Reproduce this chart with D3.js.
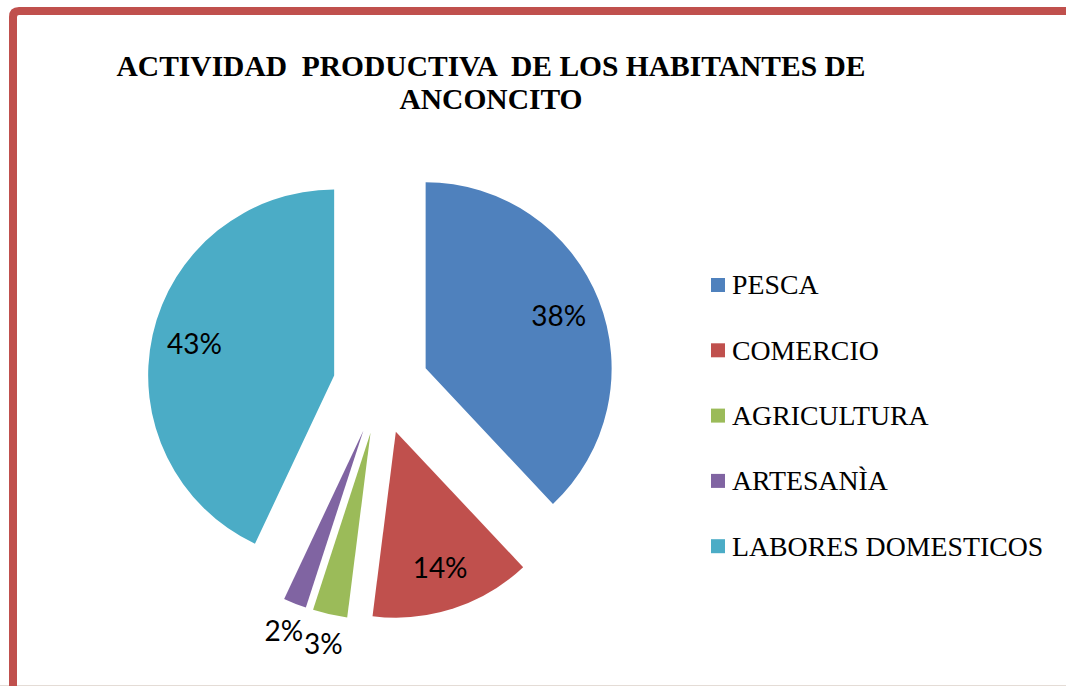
<!DOCTYPE html>
<html>
<head>
<meta charset="utf-8">
<script src="https://cdn.jsdelivr.net/npm/d3@7"></script>
<style>
  body { margin: 0; background: #fff; }
</style>
</head>
<body>
<div id="chart"></div>
<script>
// data
var categories = ["PESCA", "COMERCIO", "AGRICULTURA", "ARTESANÌA", "LABORES DOMESTICOS"];
var values = [38, 14, 3, 2, 43];
var colors = ["#4F81BD", "#C0504D", "#9BBB59", "#8064A2", "#4BACC6"];
var titleLines = ["ACTIVIDAD  PRODUCTIVA  DE LOS HABITANTES DE", "ANCONCITO"];

var svgWidth = 1066;
var svgHeight = 686;

var svg = d3.select("#chart")
  .append("svg")
  .attr("width", svgWidth)
  .attr("height", svgHeight);

// frame: thick red top/left border, thin grey bottom line
svg.append("line")
  .attr("x1", 0).attr("x2", svgWidth)
  .attr("y1", 685.5).attr("y2", 685.5)
  .attr("stroke", "#e4dcd6").attr("stroke-width", 1);

svg.append("path")
  .attr("d", "M13,686 V17 Q13,11 19,11 H1066")
  .attr("fill", "none")
  .attr("stroke", "#C0504D")
  .attr("stroke-width", 8);

// title
var title = svg.append("text")
  .attr("x", 491)
  .attr("y", 76)
  .attr("text-anchor", "middle")
  .attr("font-family", "'Liberation Serif', 'Times New Roman', serif")
  .attr("font-weight", "bold")
  .attr("font-size", "29.5px")
  .attr("fill", "#000")
  .style("white-space", "pre");

title.selectAll("tspan")
  .data(titleLines)
  .enter()
  .append("tspan")
  .attr("x", 491)
  .attr("dy", (d, i) => i === 0 ? 0 : 33)
  .text(d => d);

// pie
var radius = 186;
var explode = 48;
var cx = 381, cy = 386;

var pie = d3.pie().sort(null).value(d => d);
var arcs = pie(values);

var arc = d3.arc().innerRadius(0).outerRadius(radius);
var labelArc = d3.arc().innerRadius(radius * 0.77).outerRadius(radius * 0.77);
var outerLabelArc = d3.arc().innerRadius(radius * 1.16).outerRadius(radius * 1.16);

var pieGroup = svg.append("g")
  .attr("transform", `translate(${cx}, ${cy})`);

function offset(d) {
  var a = (d.startAngle + d.endAngle) / 2;
  return [Math.sin(a) * explode, -Math.cos(a) * explode];
}

var slices = pieGroup.selectAll("g.slice")
  .data(arcs)
  .enter()
  .append("g")
  .attr("class", "slice")
  .attr("transform", d => `translate(${offset(d)[0]}, ${offset(d)[1]})`);

slices.append("path")
  .attr("d", arc)
  .attr("fill", (d, i) => colors[i]);

slices.append("text")
  .attr("transform", d => {
    var c = d.data < 5 ? outerLabelArc.centroid(d) : labelArc.centroid(d);
    return `translate(${c[0]}, ${c[1]})`;
  })
  .attr("text-anchor", "middle")
  .attr("dy", "0.36em")
  .attr("font-family", "Lato, 'Open Sans', sans-serif")
  .attr("font-size", "28px")
  .attr("fill", "#000")
  .text(d => d.data + "%");

// legend
var legend = svg.append("g")
  .attr("transform", "translate(711, 285)");

var rows = legend.selectAll("g")
  .data(categories)
  .enter()
  .append("g")
  .attr("transform", (d, i) => `translate(0, ${i * 65.3})`);

rows.append("rect")
  .attr("x", 0)
  .attr("y", -7)
  .attr("width", 14)
  .attr("height", 14)
  .attr("fill", (d, i) => colors[i]);

rows.append("text")
  .attr("x", 21)
  .attr("y", 0)
  .attr("dy", "0.34em")
  .attr("font-family", "'Liberation Serif', 'Times New Roman', serif")
  .attr("font-size", "27.8px")
  .attr("fill", "#000")
  .text(d => d);
</script>
</body>
</html>
